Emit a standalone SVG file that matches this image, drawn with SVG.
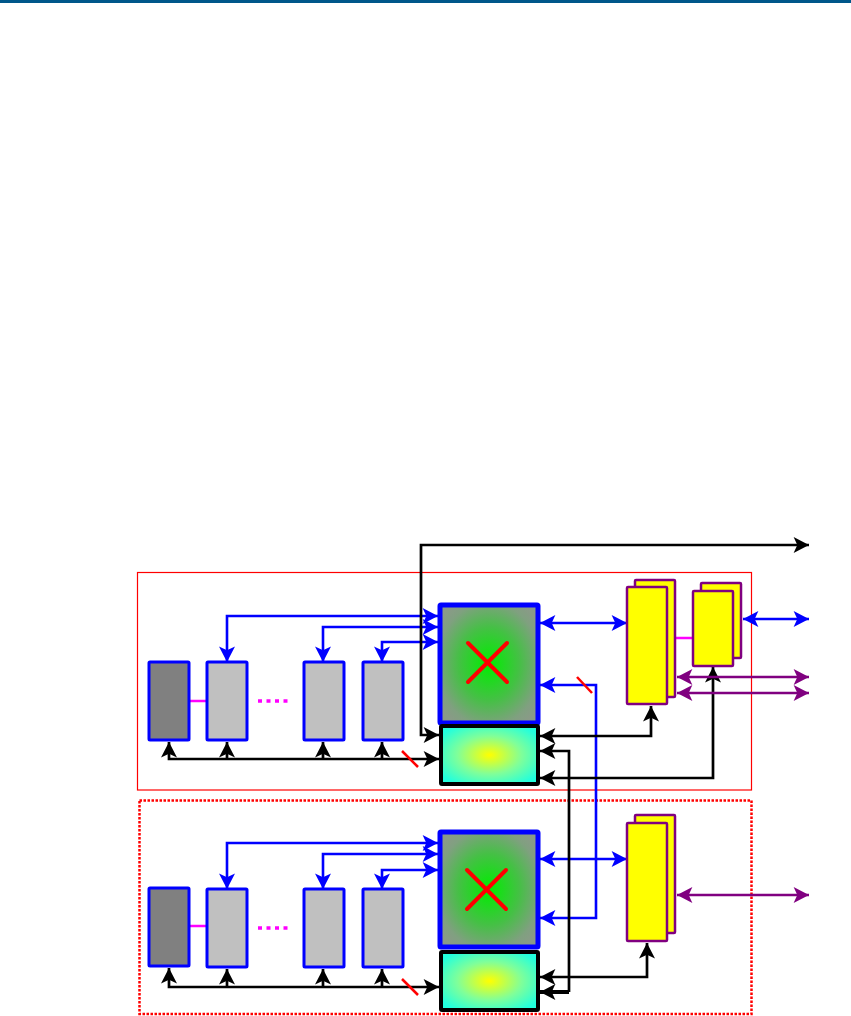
<svg xmlns="http://www.w3.org/2000/svg" width="851" height="1016" viewBox="0 0 851 1016">
<style>
.bl{fill:none;stroke:#0000ff;stroke-width:2.6}
.bk{fill:none;stroke:#000;stroke-width:2.7}
.pu{fill:none;stroke:#800080;stroke-width:2.6}
.mg{fill:none;stroke:#ff00ff;stroke-width:2.5}
.sl{stroke:#ff0000;stroke-width:2.5}
.gbox{stroke:#0000ff;stroke-width:3}
.ybox{fill:#ffff00;stroke:#800080;stroke-width:2.5}
.mix{fill:url(#gMix);stroke:#0000ff;stroke-width:5}
.cy{fill:url(#gCy);stroke:#000;stroke-width:4}
.x{stroke:#ff0000;stroke-width:4;stroke-linecap:round}
marker{overflow:visible}
</style>
<defs>
<radialGradient id="gMix" cx="0.5" cy="0.5" r="0.62">
<stop offset="0" stop-color="#00ee00"/>
<stop offset="0.5" stop-color="#45c045"/>
<stop offset="0.85" stop-color="#80a080"/>
<stop offset="1" stop-color="#8a9a88"/>
</radialGradient>
<radialGradient id="gCy" cx="0.5" cy="0.5" r="0.6">
<stop offset="0" stop-color="#ffff00"/>
<stop offset="0.55" stop-color="#80ff99"/>
<stop offset="1" stop-color="#22ffdd"/>
</radialGradient>
<marker id="aB" markerUnits="userSpaceOnUse" viewBox="0 0 13 13" markerWidth="16" markerHeight="16" refX="12.5" refY="6.5" orient="auto-start-reverse"><path d="M0,0 L12.5,6.5 L0,13 L3,6.5 z" fill="#0000ff"/></marker>
<marker id="aK" markerUnits="userSpaceOnUse" viewBox="0 0 13 13" markerWidth="16" markerHeight="16" refX="12.5" refY="6.5" orient="auto-start-reverse"><path d="M0,0 L12.5,6.5 L0,13 L3,6.5 z" fill="#000"/></marker>
<marker id="aP" markerUnits="userSpaceOnUse" viewBox="0 0 13 13" markerWidth="16" markerHeight="16" refX="12.5" refY="6.5" orient="auto-start-reverse"><path d="M0,0 L12.5,6.5 L0,13 L3,6.5 z" fill="#800080"/></marker>
</defs>
<rect x="0" y="0" width="851" height="3" fill="#00578a"/>
<g id="frames">
<rect x="137.5" y="572.5" width="614" height="217.5" fill="none" stroke="#ff0000" stroke-width="1.2"/>
<rect x="139.5" y="800.5" width="612" height="213.5" fill="none" stroke="#ff0000" stroke-width="2.5" stroke-dasharray="2.5 1.5"/>
</g>
<g id="connectors">
<path class="bl" d="M227,662 V616 H438" marker-start="url(#aB)" marker-end="url(#aB)"/>
<path class="bl" d="M323,662 V627 H438" marker-start="url(#aB)" marker-end="url(#aB)"/>
<path class="bl" d="M382,662 V642 H438" marker-start="url(#aB)" marker-end="url(#aB)"/>
<path class="bl" d="M540,623 H627" marker-start="url(#aB)" marker-end="url(#aB)"/>
<path class="bl" d="M540,685 H596 V918 H540" marker-start="url(#aB)" marker-end="url(#aB)"/>
<path class="bl" d="M743,619 H809" marker-start="url(#aB)" marker-end="url(#aB)"/>
<path class="bl" d="M227,889 V843 H438" marker-start="url(#aB)" marker-end="url(#aB)"/>
<path class="bl" d="M323,889 V854 H438" marker-start="url(#aB)" marker-end="url(#aB)"/>
<path class="bl" d="M382,889 V870 H438" marker-start="url(#aB)" marker-end="url(#aB)"/>
<path class="bl" d="M540,859 H627" stroke-width="4" marker-start="url(#aB)" marker-end="url(#aB)"/>
<path class="bk" d="M439,735 H421 V545 H809" marker-start="url(#aK)" marker-end="url(#aK)"/>
<path class="bk" d="M169,742 V759 H439" marker-start="url(#aK)" marker-end="url(#aK)"/>
<path class="bk" d="M227,759 V742" marker-end="url(#aK)"/>
<path class="bk" d="M323,759 V742" marker-end="url(#aK)"/>
<path class="bk" d="M382,759 V742" marker-end="url(#aK)"/>
<path class="bk" d="M540,736 H651 V706" marker-start="url(#aK)" marker-end="url(#aK)"/>
<path class="bk" d="M540,778 H713 V667" marker-start="url(#aK)" marker-end="url(#aK)"/>
<path class="bk" d="M540,751 H569 V992" marker-start="url(#aK)"/>
<path d="M569,992 H540" fill="none" stroke="#000" stroke-width="4" marker-end="url(#aK)"/>
<path class="bk" d="M169,968 V987 H439" marker-start="url(#aK)" marker-end="url(#aK)"/>
<path class="bk" d="M227,987 V969" marker-end="url(#aK)"/>
<path class="bk" d="M323,987 V969" marker-end="url(#aK)"/>
<path class="bk" d="M382,987 V969" marker-end="url(#aK)"/>
<path class="bk" d="M540,977 H647 V943" marker-start="url(#aK)" marker-end="url(#aK)"/>
<path class="pu" d="M677,677 H809" marker-start="url(#aP)" marker-end="url(#aP)"/>
<path class="pu" d="M677,693 H809" marker-start="url(#aP)" marker-end="url(#aP)"/>
<path class="pu" d="M677,895 H809" marker-start="url(#aP)" marker-end="url(#aP)"/>
<path class="mg" d="M189,701 H207"/>
<path class="mg" d="M189,926 H207"/>
<path class="mg" d="M667,638 H693"/>
<path d="M258,701 H288" stroke="#ff00ff" stroke-width="3.5" stroke-dasharray="4 4.5"/>
<path d="M258,928 H288" stroke="#ff00ff" stroke-width="3.5" stroke-dasharray="4 4.5"/>
<line class="sl" x1="402" y1="751" x2="418" y2="767"/>
<line class="sl" x1="402" y1="979" x2="418" y2="995"/>
<line class="sl" x1="577" y1="677" x2="592" y2="693"/>
</g>
<g id="upper-ctrl"><rect class="gbox" x="149" y="662" width="40" height="78" fill="#808080" rx="1"/></g>
<g id="upper-b1"><rect class="gbox" x="207" y="662" width="40" height="78" fill="#c0c0c0" rx="1"/></g>
<g id="upper-b2"><rect class="gbox" x="304" y="662" width="40" height="78" fill="#c0c0c0" rx="1"/></g>
<g id="upper-b3"><rect class="gbox" x="363" y="662" width="40" height="78" fill="#c0c0c0" rx="1"/></g>
<g id="upper-mixer"><rect class="mix" x="440" y="605" width="98" height="118" rx="1"/>
<line class="x" x1="468" y1="643" x2="507" y2="682"/><line class="x" x1="507" y1="643" x2="468" y2="682"/></g>
<g id="upper-cyan"><rect class="cy" x="441" y="726" width="97" height="58" rx="1"/></g>
<g id="upper-stack1"><rect class="ybox" x="635" y="580" width="40" height="117" rx="1"/><rect class="ybox" x="627" y="587" width="40" height="117" rx="1"/></g>
<g id="upper-stack2"><rect class="ybox" x="701" y="583" width="40" height="75" rx="1"/><rect class="ybox" x="693" y="591" width="40" height="75" rx="1"/></g>
<g id="lower-ctrl"><rect class="gbox" x="149" y="888" width="40" height="78" fill="#808080" rx="1"/></g>
<g id="lower-b1"><rect class="gbox" x="207" y="889" width="40" height="78" fill="#c0c0c0" rx="1"/></g>
<g id="lower-b2"><rect class="gbox" x="304" y="889" width="40" height="78" fill="#c0c0c0" rx="1"/></g>
<g id="lower-b3"><rect class="gbox" x="363" y="889" width="40" height="78" fill="#c0c0c0" rx="1"/></g>
<g id="lower-mixer"><rect class="mix" x="440" y="832" width="98" height="115" rx="1"/>
<line class="x" x1="467" y1="870" x2="506" y2="909"/><line class="x" x1="506" y1="870" x2="467" y2="909"/></g>
<g id="lower-cyan"><rect class="cy" x="441" y="952" width="97" height="58" rx="1"/></g>
<g id="lower-stack1"><rect class="ybox" x="635" y="815" width="40" height="118" rx="1"/><rect class="ybox" x="627" y="823" width="40" height="118" rx="1"/></g>
</svg>
